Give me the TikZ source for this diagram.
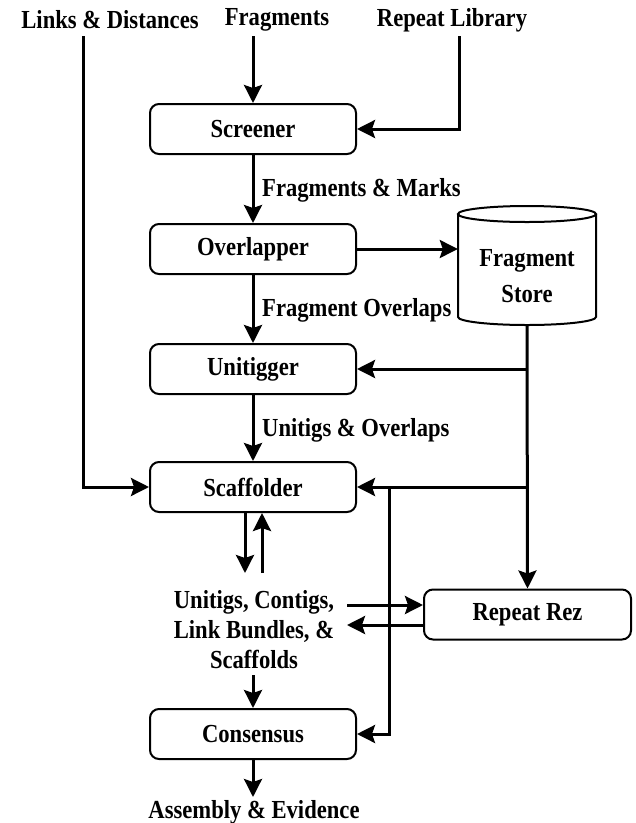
\documentclass[tikz,border=0pt]{standalone}
\usepackage{fontspec}
\setmainfont{Liberation Serif}[FakeStretch=0.87]
\usetikzlibrary{arrows.meta}
\begin{document}
\begin{tikzpicture}[x=1pt,y=-1pt,
  font=\fontsize{26}{30}\selectfont\bfseries,
  proc/.style={draw,line width=2pt,rounded corners=9pt,minimum width=206pt,minimum height=50pt,inner sep=0pt},
  txt/.style={inner sep=0pt},
  lbl/.style={inner sep=0pt,anchor=west},
  arr/.style={line width=3pt,-{Stealth[length=18pt,width=18pt,inset=3pt]}}]
\useasboundingbox (0,0) rectangle (636,823);
% texts
\node[txt] (links) at (110,20) {Links \& Distances};
\node[txt] (frags) at (277,20) {Fragments};
\node[txt] (replib) at (452,20) {Repeat Library};
% processes
\node[proc] (screener) at (253,129) {Screener};
\node[proc] (overlapper) at (253,249) {Overlapper};
\node[proc] (unitigger) at (253,369) {Unitigger};
\node[proc] (scaffolder) at (253,487) {Scaffolder};
\node[proc] (consensus) at (253,734) {Consensus};
\node[proc,minimum width=207pt] (reprez) at (527.5,614.5) {Repeat Rez};
% store
\node[txt,minimum width=138pt,minimum height=119pt] (store) at (527,265.5) {};
\draw[line width=2pt] (527,214) ellipse [x radius=69, y radius=8];
\draw[line width=2pt] (458,214) -- (458,317) arc[start angle=180,end angle=0,x radius=69,y radius=8] -- (596,214);
\node[txt,align=center,font=\fontsize{26}{36}\selectfont\bfseries] (storetxt) at (527,276) {Fragment\\Store};
% data
\node[txt,align=center] (data) at (254,630) {Unitigs, Contigs,\\Link Bundles, \&\\Scaffolds};
\node[txt] (asm) at (254,812) {Assembly \& Evidence};
% coordinates
\coordinate (l0) at (83,36);
\coordinate (f0) at (253,36);
\coordinate (r0) at (459,36);
\coordinate (cj) at (389,487);
\coordinate (d1) at (245,573);
\coordinate (u1) at (262,573);
\coordinate (a1) at (347,605);
\coordinate (a2) at (347,625);
\coordinate (s0) at (253,675);
\coordinate (e0) at (253,797);
% connectors
\draw[arr] (l0) |- (scaffolder.west);
\draw[arr] (f0) -- (screener.north);
\draw[arr] (r0) |- (screener.east);
\draw[arr] (screener) -- (overlapper);
\node[lbl] at (262,190) {Fragments \& Marks};
\draw[arr] (overlapper.east) -- (overlapper.east -| store.west);
\draw[arr] (overlapper) -- (unitigger);
\node[lbl] at (262,310) {Fragment Overlaps};
\draw[arr] (unitigger) -- (scaffolder);
\node[lbl] at (262,430) {Unitigs \& Overlaps};
\draw[arr] (store.south) -- (reprez.north);
\draw[arr] (store.south |- unitigger.east) -- (unitigger.east);
\draw[arr] (store.south |- scaffolder.east) -- (scaffolder.east);
\draw[arr] (cj) |- (consensus.east);
\draw[arr] (scaffolder.south -| d1) -- (d1);
\draw[arr] (u1) -- (scaffolder.south -| u1);
\draw[arr] (a1) -- (a1 -| reprez.west);
\draw[arr] (a2 -| reprez.west) -- (a2);
\draw[arr] (s0) -- (consensus.north);
\draw[arr] (consensus.south) -- (e0);
\end{tikzpicture}
\end{document}
